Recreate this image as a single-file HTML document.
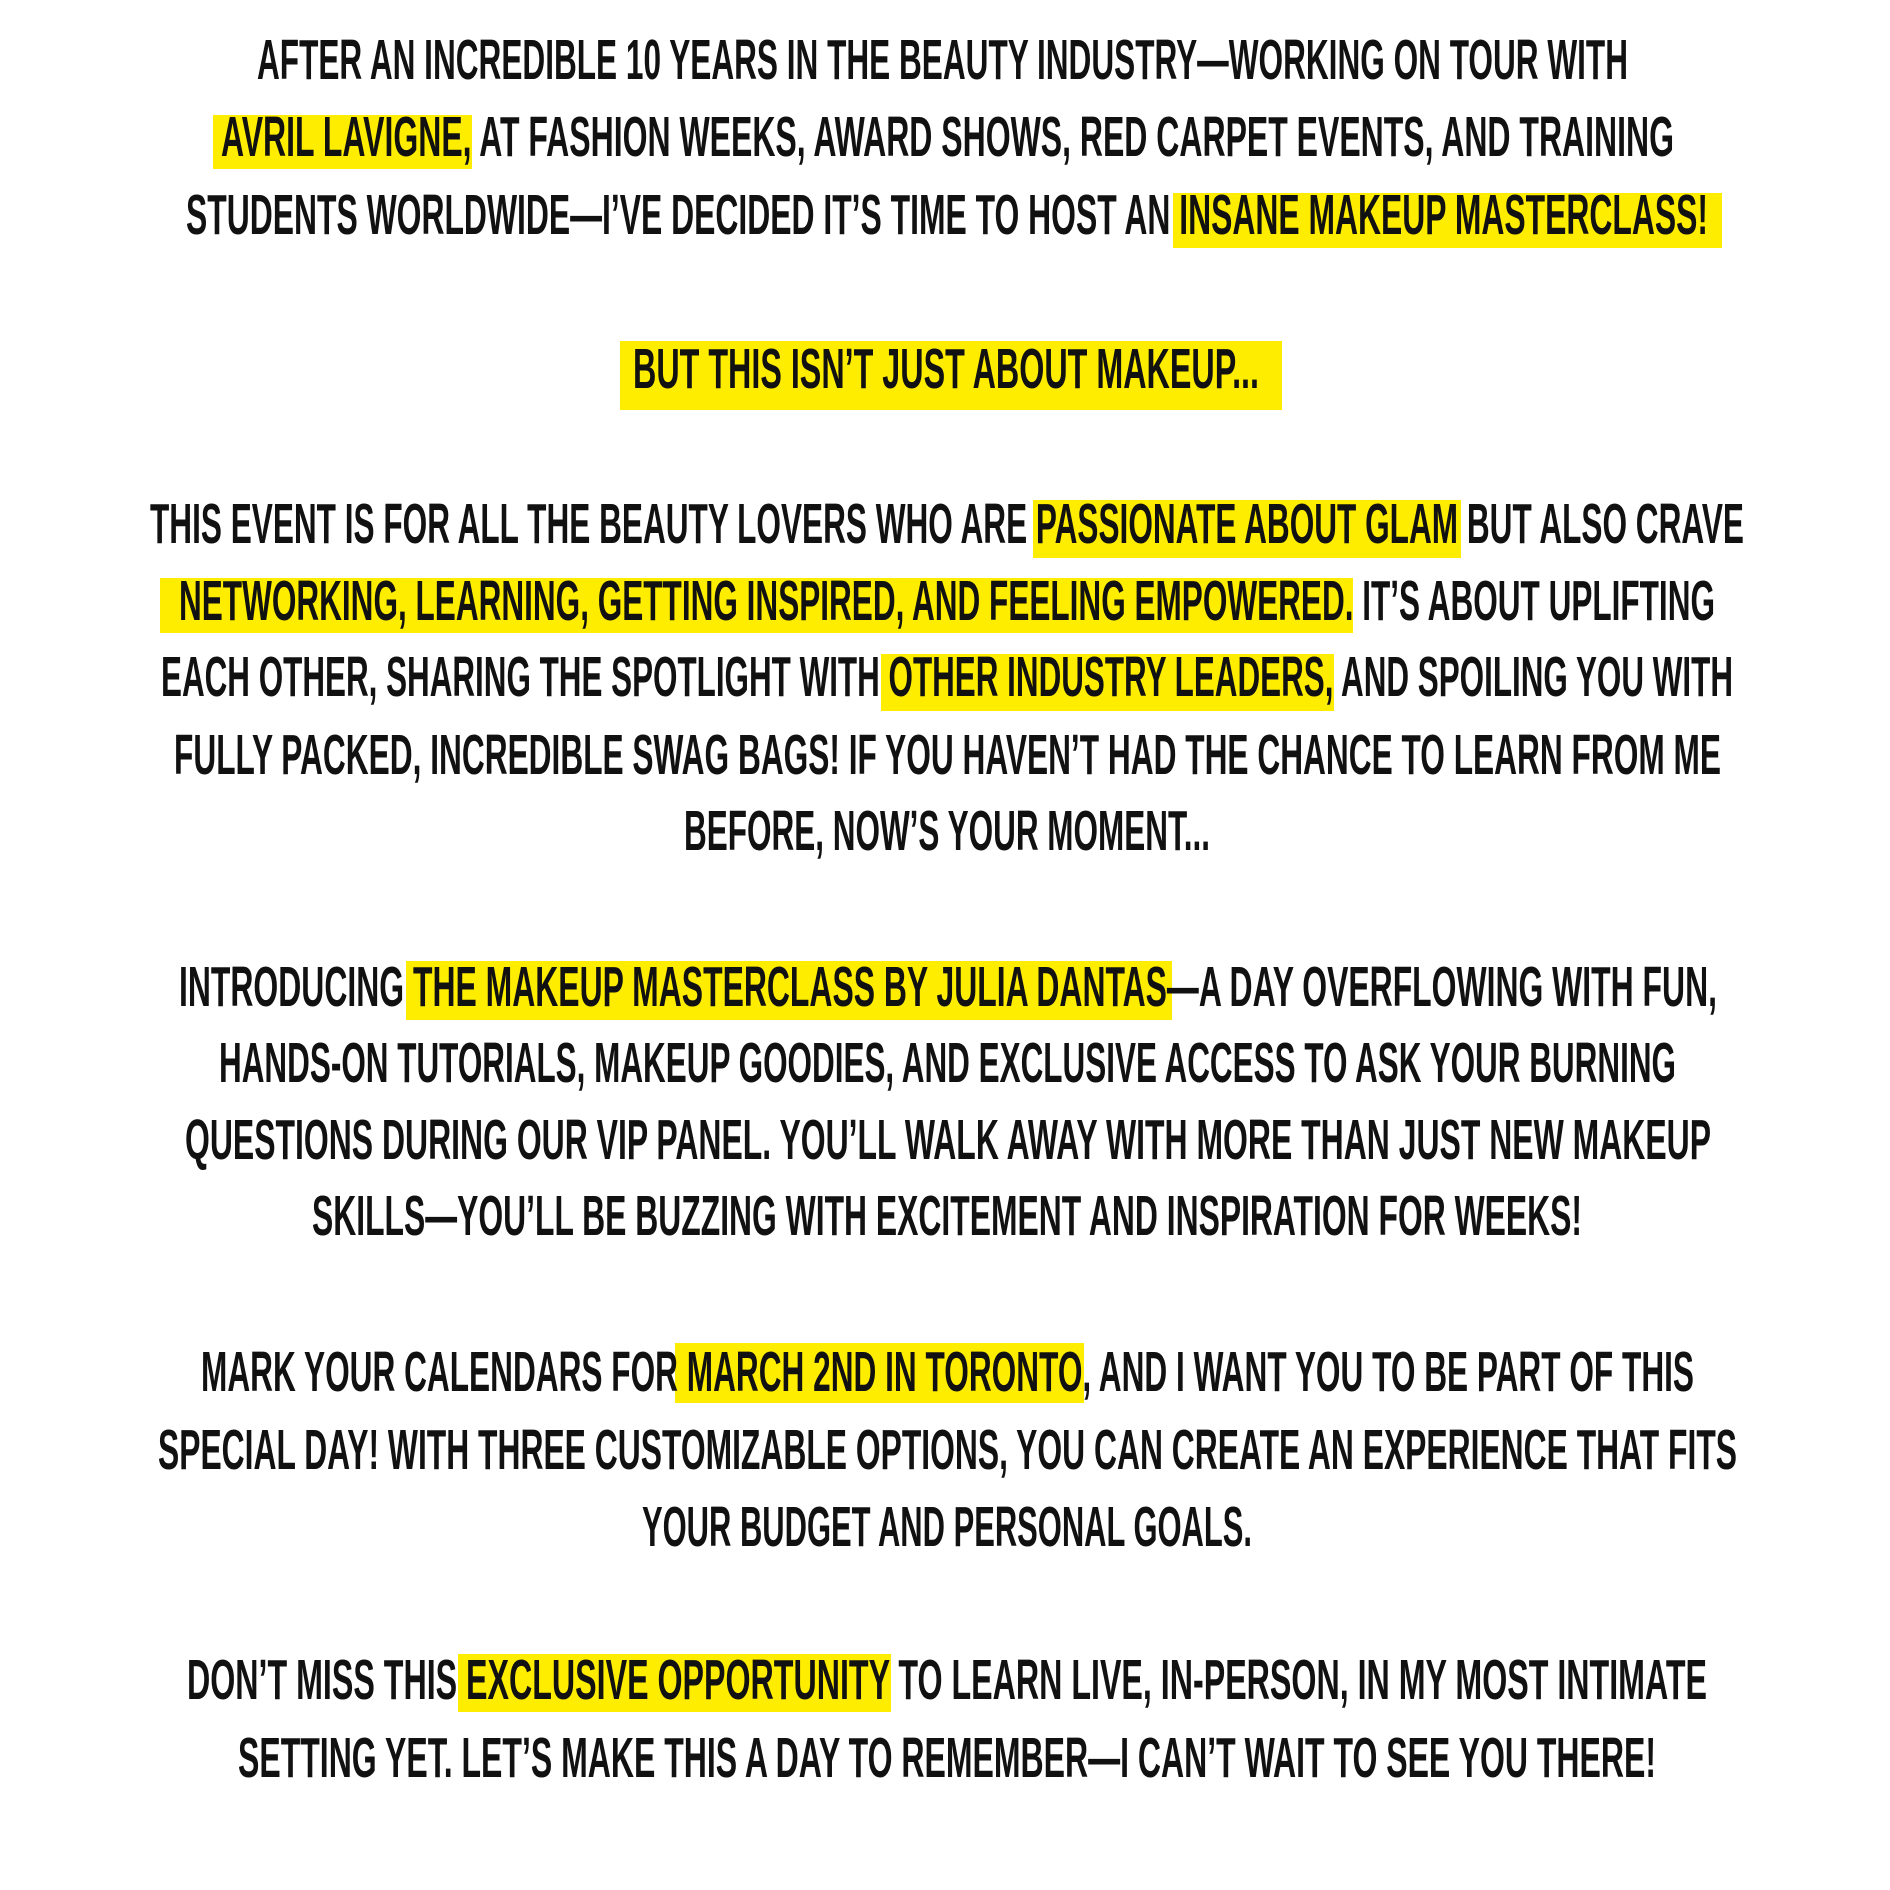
<!DOCTYPE html>
<html><head><meta charset="utf-8"><style>
html,body{margin:0;padding:0;background:#fff;}
svg{display:block;}
text{font-family:"Liberation Sans Narrow","Liberation Sans",sans-serif;font-weight:bold;font-size:57px;fill:#111;}
</style></head><body>
<svg width="1890" height="1890" viewBox="0 0 1890 1890" xmlns="http://www.w3.org/2000/svg">
<rect width="1890" height="1890" fill="#fff"/>
<g fill="#ffed00">
<rect x="213" y="115" width="259" height="54"/>
<rect x="1173" y="193" width="549" height="55"/>
<rect x="620" y="341" width="662" height="69"/>
<rect x="1033" y="500" width="428" height="58"/>
<rect x="160" y="578" width="1193" height="55"/>
<rect x="881" y="654" width="453" height="57"/>
<rect x="406" y="961" width="766" height="59"/>
<rect x="675" y="1343" width="409" height="60"/>
<rect x="458" y="1654" width="433" height="58"/>
</g>
<text x="257" y="79" textLength="1371" lengthAdjust="spacingAndGlyphs">AFTER AN INCREDIBLE 10 YEARS IN THE BEAUTY INDUSTRY—WORKING ON TOUR WITH</text>
<text x="221" y="156" textLength="1453" lengthAdjust="spacingAndGlyphs">AVRIL LAVIGNE, AT FASHION WEEKS, AWARD SHOWS, RED CARPET EVENTS, AND TRAINING</text>
<text x="186" y="234" textLength="1522" lengthAdjust="spacingAndGlyphs">STUDENTS WORLDWIDE—I’VE DECIDED IT’S TIME TO HOST AN INSANE MAKEUP MASTERCLASS!</text>
<text x="633" y="388" textLength="626" lengthAdjust="spacingAndGlyphs">BUT THIS ISN’T JUST ABOUT MAKEUP...</text>
<text x="150" y="543" textLength="1594" lengthAdjust="spacingAndGlyphs">THIS EVENT IS FOR ALL THE BEAUTY LOVERS WHO ARE PASSIONATE ABOUT GLAM BUT ALSO CRAVE</text>
<text x="179" y="620" textLength="1536" lengthAdjust="spacingAndGlyphs">NETWORKING, LEARNING, GETTING INSPIRED, AND FEELING EMPOWERED. IT’S ABOUT UPLIFTING</text>
<text x="161" y="696" textLength="1572" lengthAdjust="spacingAndGlyphs">EACH OTHER, SHARING THE SPOTLIGHT WITH OTHER INDUSTRY LEADERS, AND SPOILING YOU WITH</text>
<text x="174" y="774" textLength="1547" lengthAdjust="spacingAndGlyphs">FULLY PACKED, INCREDIBLE SWAG BAGS! IF YOU HAVEN’T HAD THE CHANCE TO LEARN FROM ME</text>
<text x="684" y="850" textLength="526" lengthAdjust="spacingAndGlyphs">BEFORE, NOW’S YOUR MOMENT...</text>
<text x="179" y="1006" textLength="1538" lengthAdjust="spacingAndGlyphs">INTRODUCING THE MAKEUP MASTERCLASS BY JULIA DANTAS—A DAY OVERFLOWING WITH FUN,</text>
<text x="219" y="1082" textLength="1457" lengthAdjust="spacingAndGlyphs">HANDS-ON TUTORIALS, MAKEUP GOODIES, AND EXCLUSIVE ACCESS TO ASK YOUR BURNING</text>
<text x="185" y="1159" textLength="1526" lengthAdjust="spacingAndGlyphs">QUESTIONS DURING OUR VIP PANEL. YOU’LL WALK AWAY WITH MORE THAN JUST NEW MAKEUP</text>
<text x="312" y="1235" textLength="1270" lengthAdjust="spacingAndGlyphs">SKILLS—YOU’LL BE BUZZING WITH EXCITEMENT AND INSPIRATION FOR WEEKS!</text>
<text x="201" y="1391" textLength="1493" lengthAdjust="spacingAndGlyphs">MARK YOUR CALENDARS FOR MARCH 2ND IN TORONTO, AND I WANT YOU TO BE PART OF THIS</text>
<text x="158" y="1469" textLength="1579" lengthAdjust="spacingAndGlyphs">SPECIAL DAY! WITH THREE CUSTOMIZABLE OPTIONS, YOU CAN CREATE AN EXPERIENCE THAT FITS</text>
<text x="642" y="1546" textLength="610" lengthAdjust="spacingAndGlyphs">YOUR BUDGET AND PERSONAL GOALS.</text>
<text x="187" y="1699" textLength="1520" lengthAdjust="spacingAndGlyphs">DON’T MISS THIS EXCLUSIVE OPPORTUNITY TO LEARN LIVE, IN-PERSON, IN MY MOST INTIMATE</text>
<text x="238" y="1777" textLength="1418" lengthAdjust="spacingAndGlyphs">SETTING YET. LET’S MAKE THIS A DAY TO REMEMBER—I CAN’T WAIT TO SEE YOU THERE!</text>
</svg>
</body></html>
